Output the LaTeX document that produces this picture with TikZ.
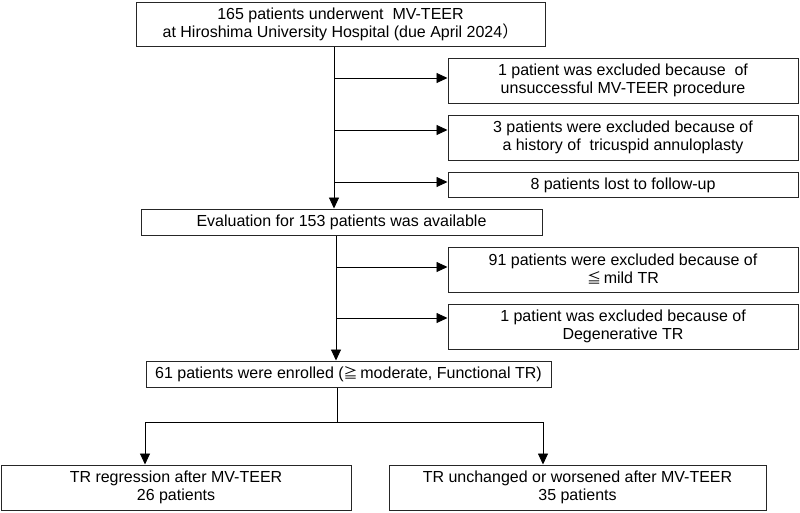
\documentclass[tikz,border=0pt]{standalone}
\usepackage{fontspec}
\setmainfont{Liberation Sans}
\newfontfamily\cjk{Noto Sans CJK JP}
\usetikzlibrary{arrows.meta}
\newcommand{\jsym}[1]{{\cjk\fontsize{14}{14}\selectfont #1}}
\begin{document}
\begin{tikzpicture}[x=1pt,y=-1pt,
  box/.style={draw=black!85, line width=1pt, align=center, inner sep=0pt,
              font=\fontsize{16}{18}\selectfont},
  arr/.style={-{Triangle[length=11pt,width=10pt]}, line width=0.9pt},
  ln/.style={line width=0.9pt}]
\useasboundingbox (0,0) rectangle (800,512);

% boxes
\node[box, minimum width=409pt, minimum height=44pt] (top) at (340.5,24)
  {165 patients underwent\ \ MV-TEER\\at Hiroshima University Hospital (due April 2024{\cjk ）}};
\node[box, minimum width=350pt, minimum height=45pt] (A) at (623,80.5)
  {1 patient was excluded because\ \ of\\unsuccessful MV-TEER procedure};
\node[box, minimum width=350pt, minimum height=45pt] (B) at (623,137.5)
  {3 patients were excluded because of\\a history of\ \ tricuspid annuloplasty};
\node[box, minimum width=350pt, minimum height=25pt] (C) at (623,185)
  {8 patients lost to follow-up};
\node[box, minimum width=401pt, minimum height=26pt] (eval) at (341.5,222)
  {Evaluation for 153 patients was available};
\node[box, minimum width=350pt, minimum height=45pt] (D) at (623,269.5)
  {91 patients were excluded because of\\\jsym{≦}\,mild TR};
\node[box, minimum width=350pt, minimum height=45pt] (E) at (623,326.5)
  {1 patient was excluded because of\\Degenerative TR};
\node[box, minimum width=405pt, minimum height=26pt] (enr) at (348.5,374)
  {61 patients were enrolled (\jsym{≧}\,moderate, Functional TR)};
\node[box, minimum width=350pt, minimum height=45pt] (F) at (176,487.5)
  {TR regression after MV-TEER\\26 patients};
\node[box, minimum width=377pt, minimum height=45pt] (G) at (577.5,487.5)
  {TR unchanged or worsened after MV-TEER\\35 patients};

% trunk 1
\coordinate (t1) at (334,0);
\draw[arr] (top.south -| t1) -- (eval.north -| t1);
\coordinate (b1) at (334,78);
\coordinate (b2) at (334,130);
\coordinate (b3) at (334,182);
\draw[arr] (b1) -- (b1 -| A.west);
\draw[arr] (b2) -- (b2 -| B.west);
\draw[arr] (b3) -- (b3 -| C.west);

% trunk 2
\coordinate (t2) at (336,0);
\draw[arr] (eval.south -| t2) -- (enr.north -| t2);
\coordinate (b4) at (336,267);
\coordinate (b5) at (336,318);
\draw[arr] (b4) -- (b4 -| D.west);
\draw[arr] (b5) -- (b5 -| E.west);

% split
\coordinate (t3) at (337,422);
\coordinate (sL) at (145,422);
\coordinate (sR) at (543,422);
\draw[ln] (enr.south -| t3) -- (t3);
\draw[ln] (sL) -- (sR);
\draw[arr] (sL) -- (sL |- F.north);
\draw[arr] (sR) -- (sR |- G.north);
\end{tikzpicture}
\end{document}
